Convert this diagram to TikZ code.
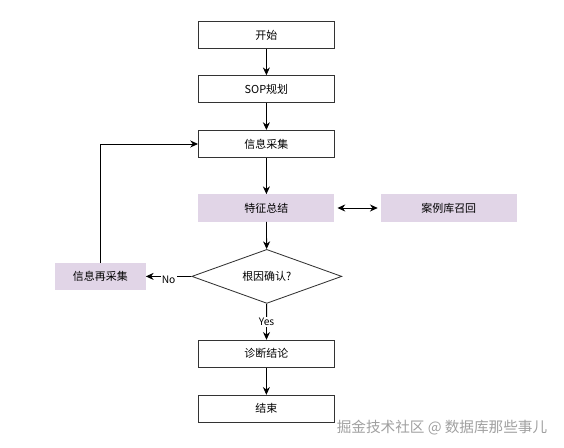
\documentclass[tikz,border=0pt]{standalone}
\usepackage{fontspec}
\setmainfont{Noto Sans CJK SC}
\usetikzlibrary{positioning,shapes.geometric,arrows.meta}
\definecolor{lavender}{HTML}{E1D5E7}
\definecolor{edge}{HTML}{333333}
\definecolor{wmgray}{HTML}{A0A0A0}

\tikzset{
  stepbox/.style={draw=edge, line width=0.6pt, minimum width=3.4cm, minimum height=0.68cm, inner sep=0pt, font=\fontsize{7.8}{9}\selectfont},
  softbox/.style={fill=lavender, minimum width=3.4cm, minimum height=0.68cm, inner sep=0pt, font=\fontsize{7.8}{9}\selectfont},
  decision/.style={diamond, draw=edge, line width=0.6pt, aspect=2.8, minimum width=3.75cm, minimum height=1.35cm, inner sep=0pt, font=\fontsize{7.8}{9}\selectfont},
  flow/.style={-{Stealth[length=5.5pt,width=5pt]}, line width=0.6pt},
  tag/.style={fill=white, inner sep=0.8pt, font=\fontsize{7.3}{8}\selectfont}
}

\begin{document}
\begin{tikzpicture}
\useasboundingbox (0,0) rectangle (14.1,11.2);

% Main column
\node[stepbox] (start) at (6.66,10.32) {开始};
\node[stepbox] (sop) at (6.66,8.97) {SOP规划};
\node[stepbox] (collect) at (6.66,7.60) {信息采集};
\node[softbox] (summary) at (6.66,6.00) {特征总结};
\node[decision] (check) at (6.67,4.29) {根因确认?};
\node[stepbox] (diagnose) at (6.66,2.355) {诊断结论};
\node[stepbox] (stop) at (6.66,0.98) {结束};

% Side boxes
\node[softbox] (caselib) at (11.22,6.00) {案例库召回};
\node[softbox, minimum width=2.26cm] (recollect) at (2.51,4.29) {信息再采集};

% Flow
\draw[flow] (start) -- (sop);
\draw[flow] (sop) -- (collect);
\draw[flow] (collect) -- (summary);
\draw[flow] (summary) -- (check);
\draw[flow] (check) -- node[tag] {Yes} (diagnose);
\draw[flow] (diagnose) -- (stop);
\draw[{Stealth[length=5.5pt,width=5pt]}-{Stealth[length=5.5pt,width=5pt]}, line width=0.6pt, shorten <=2pt, shorten >=2pt] (summary) -- (caselib);

% Loop back
\draw[flow] (check.west) -- node[tag, anchor=north, yshift=1.5pt] {No} (recollect.east);
\draw[flow] (recollect.north) |- (collect.west);

% Watermark
\node[text=wmgray, font=\fontsize{10.4}{12}\selectfont] (wm) at (11.05,0.52) {掘金技术社区 @ 数据库那些事儿};

\end{tikzpicture}
\end{document}
